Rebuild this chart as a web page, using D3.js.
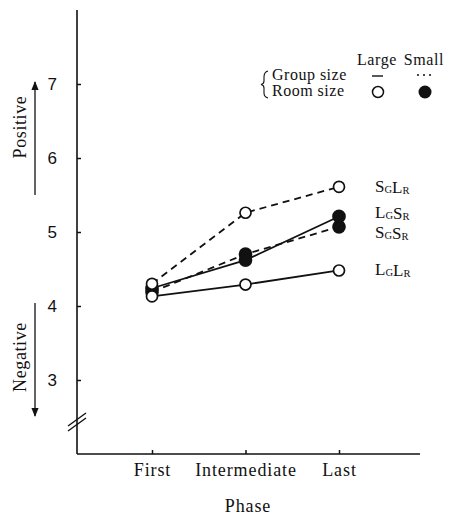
<!DOCTYPE html>
<html>
<head>
<meta charset="utf-8">
<script src="https://cdn.jsdelivr.net/npm/d3@7"></script>
<style>
  body { margin: 0; background: #fff; }
  svg { display: block; }
  .serif { font-family: "Liberation Serif", "DejaVu Serif", serif; fill: #111; }
</style>
</head>
<body>
<svg id="chart" width="454" height="516"></svg>
<script>
// ---- data ----
const phases = ["First", "Intermediate", "Last"];
const yTicks = [3, 4, 5, 6, 7];
const seriesNames = ["SGLR", "LGSR", "SGSR", "LGLR"];
const sgLr = [4.30, 5.26, 5.61];   // small group, large room: dashed, open
const lgSr = [4.24, 4.62, 5.21];   // large group, small room: solid, filled
const sgSr = [4.19, 4.70, 5.07];   // small group, small room: dashed, filled
const lgLr = [4.13, 4.29, 4.48];   // large group, large room: solid, open
const labelParts = {
  SGLR: [["S","G"],["L","R"]],
  LGSR: [["L","G"],["S","R"]],
  SGSR: [["S","G"],["S","R"]],
  LGLR: [["L","G"],["L","R"]]
};

const series = [
  { name: "SGSR", values: sgSr, dashed: true,  filled: true,  labelY: 237.5 },
  { name: "LGSR", values: lgSr, dashed: false, filled: true,  labelY: 217.5 },
  { name: "LGLR", values: lgLr, dashed: false, filled: false, labelY: 275 },
  { name: "SGLR", values: sgLr, dashed: true,  filled: false, labelY: 192 }
];

const svg = d3.select("#chart");
const axisX = 77, axisBottom = 454, axisTop = 10, axisRight = 420;

const x = d3.scalePoint().domain(phases).range([152, 339]);
const y = d3.scaleLinear().domain([3, 7]).range([380, 84]);

// axes lines
svg.append("line").attr("x1", axisX).attr("x2", axisX).attr("y1", axisTop).attr("y2", axisBottom)
  .attr("stroke", "#111").attr("stroke-width", 1.6);
svg.append("line").attr("x1", axisX).attr("x2", axisRight).attr("y1", axisBottom).attr("y2", axisBottom)
  .attr("stroke", "#111").attr("stroke-width", 1.6);

// break marks
[0, 5].forEach(o => {
  svg.append("line").attr("x1", 68).attr("y1", 431 - o).attr("x2", 86).attr("y2", 418 - o)
    .attr("stroke", "#111").attr("stroke-width", 1.4);
});

// y axis
const yAxis = d3.axisLeft(y).tickValues(yTicks).tickSize(-4).tickPadding(20).tickFormat(d3.format("d"));
const gy = svg.append("g").attr("transform", `translate(${axisX},0)`).call(yAxis);
gy.select(".domain").remove();
gy.selectAll(".tick line").attr("stroke", "#111").attr("stroke-width", 1.5);
gy.selectAll(".tick text").attr("font-family", "'Liberation Sans Narrow', 'Liberation Sans', sans-serif")
  .attr("font-size", 17).attr("fill", "#111");

// x axis
const xAxis = d3.axisBottom(x).tickSize(-4).tickPadding(9);
const gx = svg.append("g").attr("transform", `translate(0,${axisBottom})`).call(xAxis);
gx.select(".domain").remove();
gx.selectAll(".tick line").attr("stroke", "#111").attr("stroke-width", 1.5);
gx.selectAll(".tick text").attr("class", "serif").attr("font-family", "'Liberation Serif', serif")
  .attr("font-size", 18).attr("letter-spacing", 0.9).attr("fill", "#111");

// x title
svg.append("text").attr("class", "serif").attr("x", 248).attr("y", 512).attr("text-anchor", "middle")
  .attr("font-size", 18).attr("letter-spacing", 0.9).text("Phase");

// side labels with arrows
const defs = svg.append("defs");
defs.append("marker").attr("id", "ah").attr("viewBox", "0 0 10 10").attr("refX", 9).attr("refY", 5)
  .attr("markerWidth", 7).attr("markerHeight", 7).attr("orient", "auto-start-reverse")
  .append("path").attr("d", "M0,1 L10,5 L0,9 z").attr("fill", "#111");

svg.append("line").attr("x1", 35).attr("x2", 35).attr("y1", 195).attr("y2", 82)
  .attr("stroke", "#111").attr("stroke-width", 1.3).attr("marker-end", "url(#ah)");
svg.append("line").attr("x1", 35).attr("x2", 35).attr("y1", 303).attr("y2", 416)
  .attr("stroke", "#111").attr("stroke-width", 1.3).attr("marker-end", "url(#ah)");

svg.append("text").attr("class", "serif").attr("font-size", 18).attr("letter-spacing", 0.6)
  .attr("text-anchor", "middle").attr("transform", "translate(26,127) rotate(-90)").text("Positive");
svg.append("text").attr("class", "serif").attr("font-size", 18).attr("letter-spacing", 0.6)
  .attr("text-anchor", "middle").attr("transform", "translate(26,357) rotate(-90)").text("Negative");

// lines
const line = d3.line().x((d, i) => x(phases[i])).y(d => y(d));
series.forEach(s => {
  svg.append("path").datum(s.values).attr("d", line).attr("fill", "none")
    .attr("stroke", "#111").attr("stroke-width", 1.8)
    .attr("stroke-dasharray", s.dashed ? "7,5" : null);
});

// points: filled first, open on top
const order = series.slice().sort((a, b) => (b.filled ? 1 : 0) - (a.filled ? 1 : 0));
order.forEach(s => {
  svg.append("g").selectAll("circle").data(s.values).join("circle")
    .attr("cx", (d, i) => x(phases[i])).attr("cy", d => y(d))
    .attr("r", s.filled ? 6 : 5.5)
    .attr("fill", s.filled ? "#111" : "#fff")
    .attr("stroke", "#111").attr("stroke-width", 1.7);
});

// series labels
series.forEach(s => {
  const t = svg.append("text").attr("class", "serif").attr("x", 375).attr("y", s.labelY).attr("font-size", 17);
  labelParts[s.name].forEach(([big, sub]) => {
    t.append("tspan").text(big);
    t.append("tspan").attr("font-size", 10.5).attr("dy", 1).text(sub);
    t.append("tspan").attr("font-size", 17).attr("dy", -1).text("");
  });
});

// legend
svg.append("text").attr("class", "serif").attr("x", 377).attr("y", 65).attr("text-anchor", "middle")
  .attr("font-size", 16).attr("letter-spacing", 0.6).text("Large");
svg.append("text").attr("class", "serif").attr("x", 424).attr("y", 65).attr("text-anchor", "middle")
  .attr("font-size", 16).attr("letter-spacing", 0.6).text("Small");
svg.append("text").attr("class", "serif").attr("x", 272).attr("y", 80)
  .attr("font-size", 16).attr("letter-spacing", 0.5).text("Group size");
svg.append("text").attr("class", "serif").attr("x", 272).attr("y", 96)
  .attr("font-size", 16).attr("letter-spacing", 0.5).text("Room size");
svg.append("path").attr("d", "M268,71 Q264,72 264,77 L264,81 Q264,84 261,84.5 Q264,85 264,88 L264,93 Q264,97 268,98")
  .attr("fill", "none").attr("stroke", "#111").attr("stroke-width", 1.1);
svg.append("line").attr("x1", 372).attr("x2", 383).attr("y1", 76).attr("y2", 76)
  .attr("stroke", "#111").attr("stroke-width", 1.4);
svg.append("line").attr("x1", 417).attr("x2", 431).attr("y1", 75).attr("y2", 75)
  .attr("stroke", "#111").attr("stroke-width", 1.6).attr("stroke-dasharray", "2,4");
svg.append("circle").attr("cx", 378).attr("cy", 92).attr("r", 5.5).attr("fill", "#fff")
  .attr("stroke", "#111").attr("stroke-width", 1.5);
svg.append("circle").attr("cx", 425).attr("cy", 92).attr("r", 6.5).attr("fill", "#111");
</script>
</body>
</html>
